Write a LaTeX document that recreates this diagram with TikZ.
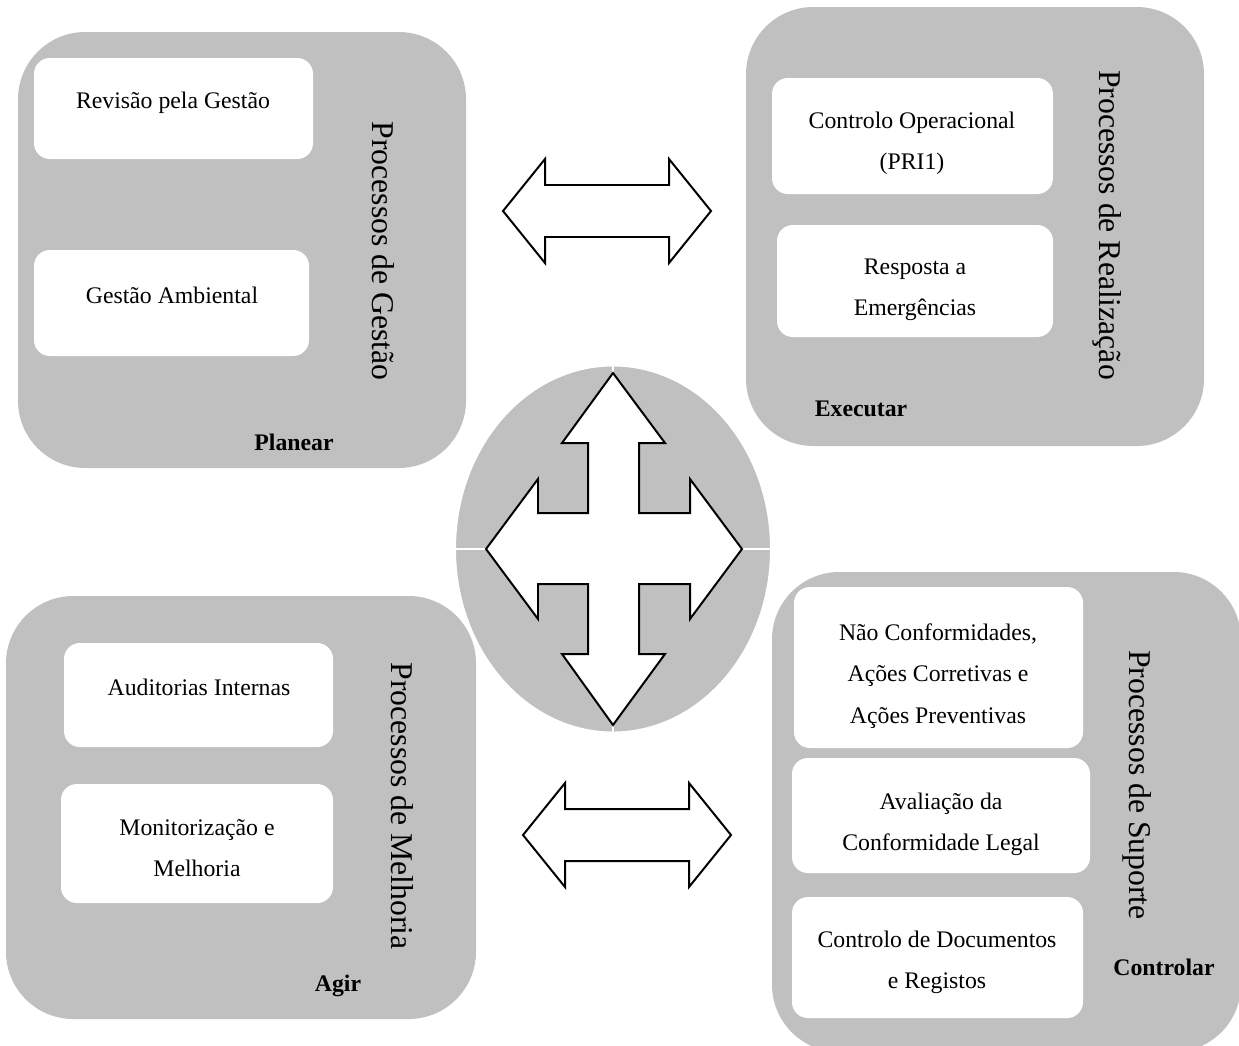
\documentclass[tikz,border=0pt]{standalone}
\usepackage{fontspec}
\setmainfont{Liberation Serif}
\usepackage{tikz}
\usetikzlibrary{fit}

\definecolor{panelgray}{RGB}{192,192,192}

\tikzset{
  panel/.style={fill=panelgray, rounded corners=34pt, inner sep=0pt},
  innerbox/.style={fill=white, rounded corners=8pt, inner sep=0pt},
  boxtext/.style={font=\fontsize{12}{20.8}\selectfont, align=center, inner sep=0pt},
  title/.style={font=\fontsize{16}{19}\selectfont, rotate=-90, inner sep=0pt},
  phase/.style={font=\fontsize{12}{14}\selectfont\bfseries, inner sep=0pt},
  blockarrow/.style={draw=black, fill=white, line width=1pt, line join=miter},
  twoway/.pic={
    \draw[blockarrow] (-104,0) -- (-62,-52) -- (-62,-26) -- (62,-26) -- (62,-52)
      -- (104,0) -- (62,52) -- (62,26) -- (-62,26) -- (-62,52) -- cycle;
  }
}

\begin{document}
\begin{tikzpicture}[x={(0.505pt,0)}, y={(0,-0.505pt)}]
    \clip (0,0) rectangle (1239,1045);

    % Panels
    \node[panel, fit={(18,32) (466,468)}]    (gestao) {};
    \node[panel, fit={(746,7) (1204,446)}]   (realiz) {};
    \node[panel, fit={(6,596) (476,1019)}]   (melhor) {};
    \node[panel, fit={(772,572) (1241,1052)}] (suporte) {};

    % Processos de Gestao
    \node[innerbox, fit={(34,58) (313,159)}]  (revbox) {};
    \node[innerbox, fit={(34,250) (309,356)}] (ambbox) {};
    \node[boxtext] (revtxt) at (173,103) {Revisão pela Gestão};
    \node[boxtext] (ambtxt) at (172,295) {Gestão Ambiental};
    \node[title] (gestaott) at (383,251) {Processos de Gestão};
    \node[phase] (planear) at (294,442) {Planear};

    % Processos de Realizacao
    \node[innerbox, fit={(772,78) (1053,194)}]  (opbox) {};
    \node[innerbox, fit={(777,225) (1053,337)}] (emebox) {};
    \node[boxtext] (optxt) at (912,143) {Controlo Operacional\\(PRI1)};
    \node[boxtext] (emetxt) at (915,290) {Resposta a\\Emergências};
    \node[title] (realiztt) at (1107,225) {Processos de Realização};
    \node[phase] (executar) at (861,409) {Executar};

    % Processos de Melhoria
    \node[innerbox, fit={(64,643) (333,747)}] (audbox) {};
    \node[innerbox, fit={(61,784) (333,903)}] (monbox) {};
    \node[boxtext] (audtxt) at (199,687) {Auditorias Internas};
    \node[boxtext] (montxt) at (197,848) {Monitorização e\\Melhoria};
    \node[title] (melhortt) at (402,806) {Processos de Melhoria};
    \node[phase] (agir) at (338,986) {Agir};

    % Processos de Suporte
    \node[innerbox, fit={(794,587) (1083,748)}]  (ncbox) {};
    \node[innerbox, fit={(792,758) (1090,873)}]  (legbox) {};
    \node[innerbox, fit={(792,897) (1083,1018)}] (docbox) {};
    \node[boxtext] (nctxt) at (938,676) {Não Conformidades,\\Ações Corretivas e\\Ações Preventivas};
    \node[boxtext] (legtxt) at (941,824) {Avaliação da\\Conformidade Legal};
    \node[boxtext] (doctxt) at (937,962) {Controlo de Documentos\\e Registos};
    \node[title] (suportett) at (1137,785) {Processos de Suporte};
    \node[phase] (controlar) at (1164,967) {Controlar};

    % Centre
    \coordinate (hub) at (613,549);
    \draw[fill=panelgray, draw=white, line width=1.5pt] (hub) ellipse [x radius=158.5, y radius=184];
    \draw[white, line width=1.2pt] (455,549) -- (772,549) (613,365) -- (613,733);
    \draw[blockarrow, shift={(hub)}] (0,-176) -- (52,-106) -- (26,-106) -- (26,-36)
      -- (77,-36) -- (77,-70) -- (129,0) -- (77,70) -- (77,35) -- (26,35)
      -- (26,105) -- (52,105) -- (0,176) -- (-51,105) -- (-25,105) -- (-25,35)
      -- (-75,35) -- (-75,70) -- (-127,0) -- (-75,-70) -- (-75,-36) -- (-25,-36)
      -- (-25,-106) -- (-51,-106) -- cycle;

    % Arrows between panels
    \pic at (607,211) {twoway};
    \pic at (627,835) {twoway};
\end{tikzpicture}
\end{document}
